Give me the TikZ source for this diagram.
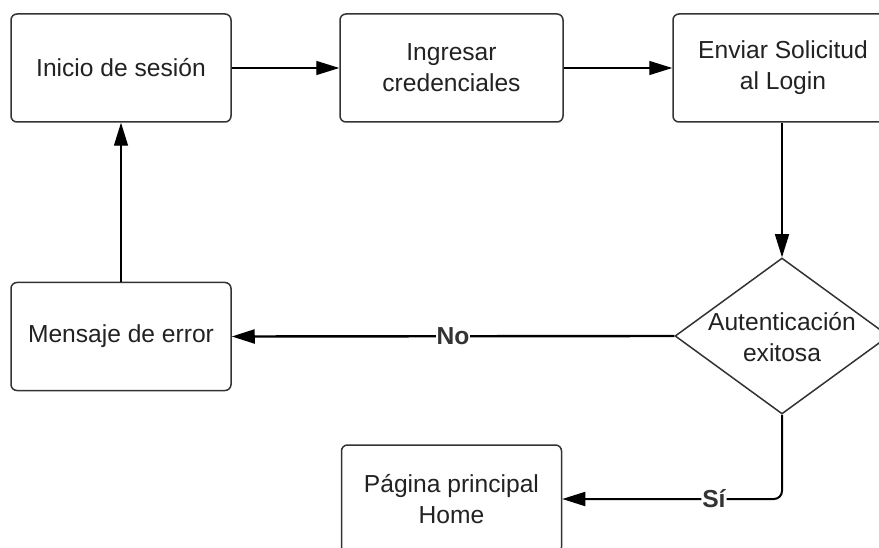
\documentclass[tikz,border=0pt]{standalone}
\usepackage{fontspec}
\setmainfont{Liberation Sans}
\usetikzlibrary{shapes.geometric,arrows.meta}
\definecolor{ink}{HTML}{222222}
\definecolor{edge}{HTML}{333333}
\begin{document}
\begin{tikzpicture}[x=1pt,y=-1pt,
  font=\fontsize{24.6}{31}\selectfont, text=ink,
  box/.style={draw=edge, line width=1.5pt, rounded corners=6pt, minimum width=220pt, minimum height=108pt, align=center, inner sep=0pt},
  dia/.style={draw=edge, line width=1.5pt, diamond, minimum width=214pt, minimum height=156pt, inner sep=0pt},
  conn/.style={draw=black, line width=1.4pt, -{Triangle[length=23pt,width=14pt]}},
  lbl/.style={fill=white, inner sep=1pt, font=\fontsize{24.6}{28}\selectfont\bfseries, text=edge}
]
\useasboundingbox (0,0) rectangle (879,548);
\clip (0,0) rectangle (879,548);
\fill[white] (0,0) rectangle (879,548);
\node[box] (n1) at (121,68) {Inicio de sesión};
\node[box, minimum width=223pt] (n2) at (451.5,68) {Ingresar\\credenciales};
\node[box] (n3) at (783,68) {Enviar Solicitud\\al Login};
\node[dia] (d) at (782,336) {};
\node[align=center] (dt) at (782,337) {Autenticación\\exitosa};
\node[box] (em) at (121,336.5) {Mensaje de error};
\node[box] (home) at (451.5,499) {Página principal\\Home};
\draw[conn] (n1.east) -- (n2.west);
\draw[conn] (n2.east) -- (n3.west);
\draw[conn] (n3.south -| d.north) -- (d.north);
\draw[conn, line width=2.4pt] (d.west) -- node[lbl, pos=0.5] (no) {No} (em.east);
\draw[conn] (em.north) -- (n1.south);
\draw[conn, line width=2pt, rounded corners=8pt] (d.south) |- node[lbl, pos=0.655] (si) {Sí} (home.east);
\end{tikzpicture}
\end{document}
